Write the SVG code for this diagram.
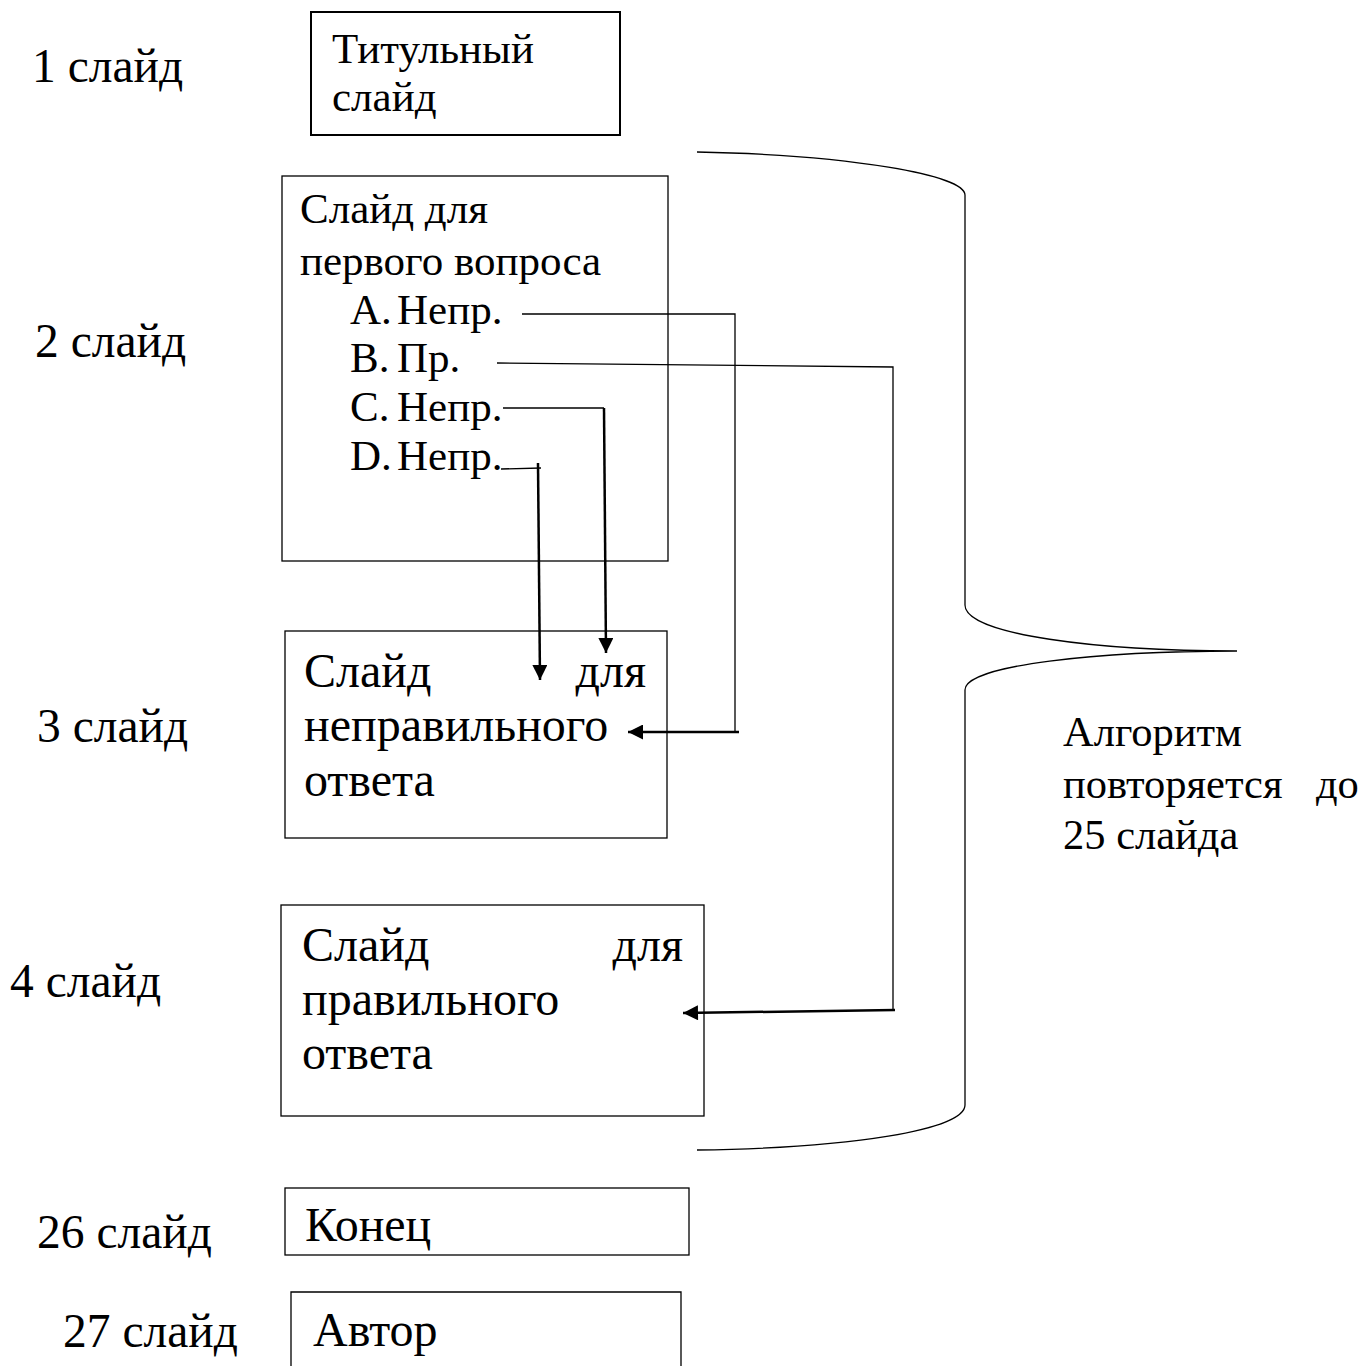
<svg xmlns="http://www.w3.org/2000/svg" width="1370" height="1366" viewBox="0 0 1370 1366">
<style>
text{font-family:"Liberation Serif","Times New Roman",serif;fill:#000}
.lbl{font-size:47.5px}
.ttl{font-size:43px}
.t{font-size:43px}
.big{font-size:48px}
.note{font-size:42.5px}
.box{fill:#fff;stroke:#000;stroke-width:1.3}
.ln{fill:none;stroke:#000;stroke-width:1.3}
.ar{fill:none;stroke:#000;stroke-width:2.5}
</style>
<defs>
<marker id="ah" viewBox="0 0 10 10" refX="10" refY="5" markerWidth="6.5" markerHeight="6" markerUnits="strokeWidth" orient="auto">
<path d="M0,0 L10,5 L0,10 z" fill="#000"/>
</marker>
</defs>
<rect width="1370" height="1366" fill="#fff"/>
<g id="labels">
<text class="lbl" x="32" y="82">1 слайд</text>
<text class="lbl" x="35" y="357">2 слайд</text>
<text class="lbl" x="37" y="742">3 слайд</text>
<text class="lbl" x="10" y="997">4 слайд</text>
<text class="lbl" x="37" y="1248">26 слайд</text>
<text class="lbl" x="63" y="1347">27 слайд</text>
</g>
<g id="n1">
<rect class="box" x="311" y="12" width="309" height="123" style="stroke-width:2"/>
<text class="ttl" x="332" y="63">Титульный</text>
<text class="ttl" x="332" y="111">слайд</text>
</g>
<g id="n2">
<rect class="box" x="282" y="176" width="386" height="385"/>
<text class="t" x="300" y="223">Слайд для</text>
<text class="t" x="300" y="275">первого вопроса</text>
<text class="t" x="350" y="324">A.</text>
<text class="t" x="397" y="324">Непр.</text>
<text class="t" x="350" y="372">B.</text>
<text class="t" x="397" y="372">Пр.</text>
<text class="t" x="350" y="421">C.</text>
<text class="t" x="397" y="421">Непр.</text>
<text class="t" x="350" y="470">D.</text>
<text class="t" x="397" y="470">Непр.</text>
</g>
<g id="n3">
<rect class="box" x="285" y="631" width="382" height="207"/>
<text class="big" x="304" y="687">Слайд</text>
<text class="big" x="646" y="687" text-anchor="end">для</text>
<text class="big" x="304" y="741">неправильного</text>
<text class="big" x="304" y="796">ответа</text>
</g>
<g id="n4">
<rect class="box" x="281" y="905" width="423" height="211"/>
<text class="big" x="302" y="961">Слайд</text>
<text class="big" x="683" y="961" text-anchor="end">для</text>
<text class="big" x="302" y="1015">правильного</text>
<text class="big" x="302" y="1069">ответа</text>
</g>
<g id="n26">
<rect class="box" x="285" y="1188" width="404" height="67"/>
<text class="big" x="305" y="1241">Конец</text>
</g>
<g id="n27">
<path class="ln" d="M291,1366 V1292 H681 V1366"/>
<text class="big" x="313" y="1346">Автор</text>
</g>
<g id="note">
<text class="note" x="1063" y="746">Алгоритм</text>
<text class="note" x="1063" y="798">повторяется</text>
<text class="note" x="1316" y="798">до</text>
<text class="note" x="1063" y="849">25 слайда</text>
</g>
<g id="connectors">
<path class="ln" d="M522,314 H735 V732"/>
<path class="ar" d="M739,732 H628" marker-end="url(#ah)"/>
<path class="ln" d="M497,363 L893,367 V1010"/>
<path class="ar" d="M895,1010 L683,1013" marker-end="url(#ah)"/>
<path class="ln" d="M503,408 H604"/>
<path class="ar" d="M604,408 L606,653" marker-end="url(#ah)"/>
<path class="ln" d="M501,469 L541,468"/>
<path class="ar" d="M538,463 L540,680" marker-end="url(#ah)"/>
<path class="ln" d="M697,152 C850,155 965,175 965,195 L965,605 C965,635 1100,651 1237,651 C1100,651 965,665 965,690 L965,1105 C965,1130 850,1148 697,1150"/>
</g>
</svg>
